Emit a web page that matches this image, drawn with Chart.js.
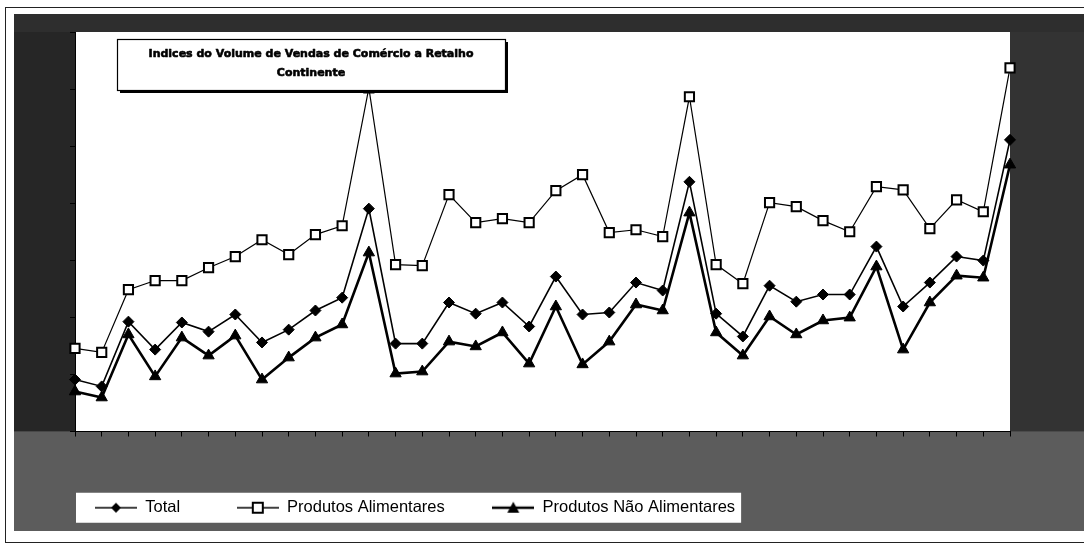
<!DOCTYPE html>
<html>
<head>
<meta charset="utf-8">
<script src="https://cdn.jsdelivr.net/npm/chart.js@4.4.0/dist/chart.umd.min.js"></script>
<style>
  html, body { margin: 0; padding: 0; background: #fff; }
  #wrap { width: 1084px; height: 545px; position: relative; }
</style>
</head>
<body>
<div id="wrap"><canvas id="c"></canvas></div>
<script>
// ---- data (36 months) ----
const months = ['Jan','Fev','Mar','Abr','Mai','Jun','Jul','Ago','Set','Out','Nov','Dez'];
const categories = months.concat(months, months);

const total = [78.2, 75.8, 98.5, 88.7, 98.2, 95.0, 101.0, 91.2, 95.7, 102.4, 106.9, 138.1,
               90.8, 90.8, 105.2, 101.3, 105.2, 96.8, 114.3, 101.0, 101.7, 112.2, 109.4, 147.5,
               101.3, 93.3, 111.1, 105.5, 108.0, 108.0, 124.8, 103.8, 112.2, 121.3, 119.9, 162.2];

const alimentares = [89.1, 87.7, 109.7, 112.9, 112.9, 117.4, 121.3, 127.2, 122.0, 129.0, 132.1, 180.4,
                     118.5, 118.1, 143.0, 133.2, 134.6, 133.2, 144.4, 150.0, 129.7, 130.7, 128.3, 177.3,
                     118.5, 111.8, 140.2, 138.8, 133.9, 130.0, 145.8, 144.7, 131.1, 141.2, 137.0, 187.4];

const naoAlimentares = [74.0, 71.9, 94.0, 79.3, 92.9, 86.6, 93.6, 78.2, 85.9, 92.9, 97.5, 122.7,
                        80.3, 81.0, 91.5, 89.8, 94.7, 83.8, 103.8, 83.5, 91.5, 104.5, 102.4, 136.7,
                        94.7, 86.6, 100.3, 94.0, 98.9, 99.9, 117.8, 88.7, 105.2, 114.6, 113.9, 153.5];

const seriesNames = ['Total', 'Produtos Alimentares', 'Produtos Não Alimentares'];
const titleLines = ['Indices do Volume de Vendas de Comércio a Retalho', 'Continente'];
const yMin = 60, yMax = 200, yStep = 20;

// ---- legend marker images (line + marker) ----
function makeMarker(kind) {
  const c = document.createElement('canvas');
  c.width = 42; c.height = 16;
  const g = c.getContext('2d');
  g.strokeStyle = '#000';
  g.lineWidth = kind === 'tri' ? 2.5 : 1.5;
  g.beginPath(); g.moveTo(0, 8); g.lineTo(42, 8); g.stroke();
  g.fillStyle = '#000';
  if (kind === 'dia') {
    g.beginPath(); g.moveTo(21, 3); g.lineTo(26, 8); g.lineTo(21, 13); g.lineTo(16, 8); g.closePath(); g.fill();
  } else if (kind === 'sq') {
    g.fillStyle = '#fff'; g.fillRect(16, 3, 10, 10);
    g.lineWidth = 2; g.strokeRect(16, 3, 10, 10);
  } else {
    g.beginPath(); g.moveTo(21, 2); g.lineTo(27, 13); g.lineTo(15, 13); g.closePath(); g.fill();
  }
  return c;
}
const markerImgs = [makeMarker('dia'), makeMarker('sq'), makeMarker('tri')];
const legendTrail = ['        ', '      ', ''];

// ---- background / frame plugin ----
const scanBackground = {
  id: 'scanBackground',
  beforeDraw(chart) {
    const ctx = chart.ctx, a = chart.chartArea;
    const W = chart.width;
    ctx.save();
    ctx.fillStyle = '#fff';
    ctx.fillRect(0, 0, W, chart.height);
    // outer thin frame
    ctx.strokeStyle = '#222';
    ctx.lineWidth = 1;
    ctx.strokeRect(5.5, 7.5, W + 10, 535);
    // dark scanned area
    ctx.fillStyle = '#454545';
    ctx.fillRect(14, 14, W - 14, 517);
    ctx.fillStyle = '#262626';
    ctx.fillRect(14, 14, a.left - 14, a.bottom - 14);
    ctx.fillStyle = '#2e2e2e';
    ctx.fillRect(14, 14, W - 14, a.top - 14);
    ctx.fillStyle = '#333';
    ctx.fillRect(a.right, a.top, W - a.right, a.bottom - a.top);
    ctx.fillStyle = '#5c5c5c';
    ctx.fillRect(14, a.bottom, W - 14, 531 - a.bottom);
    // plot area
    ctx.fillStyle = '#fff';
    ctx.fillRect(a.left, a.top, a.right - a.left, a.bottom - a.top);
    // legend box
    const lg = chart.legend;
    if (lg && lg.legendHitBoxes && lg.legendHitBoxes.length) {
      const hb = lg.legendHitBoxes;
      const first = hb[0], last = hb[hb.length - 1];
      const cy = first.top + first.height / 2;
      const x0 = first.left - 19, x1 = last.left + last.width + 6;
      ctx.fillStyle = '#fff';
      ctx.fillRect(x0, cy - 15, x1 - x0, 30);
    }
    ctx.restore();
  }
};

// ---- title box plugin ----
const titleBox = {
  id: 'titleBox',
  afterDatasetsDraw(chart) {
    const ctx = chart.ctx, a = chart.chartArea;
    const x0 = a.left + 42, y0 = a.top + 7, w = 388, h = 51;
    ctx.save();
    ctx.fillStyle = '#000';
    ctx.fillRect(x0 + 3, y0 + 3, w, h);
    ctx.fillStyle = '#fff';
    ctx.fillRect(x0, y0, w, h);
    ctx.strokeStyle = '#000';
    ctx.lineWidth = 1.2;
    ctx.strokeRect(x0 + 0.5, y0 + 0.5, w, h);
    ctx.fillStyle = '#000';
    ctx.font = 'bold 11px "DejaVu Sans", sans-serif';
    ctx.textAlign = 'center';
    ctx.textBaseline = 'middle';
    ctx.lineWidth = 0.6;
    ctx.lineJoin = 'round';
    ctx.strokeText(titleLines[0], x0 + w / 2, y0 + 15);
    ctx.fillText(titleLines[0], x0 + w / 2, y0 + 15);
    ctx.strokeText(titleLines[1], x0 + w / 2, y0 + 34);
    ctx.fillText(titleLines[1], x0 + w / 2, y0 + 34);
    ctx.restore();
  }
};

new Chart(document.getElementById('c'), {
  type: 'line',
  data: {
    labels: categories,
    datasets: [
      {
        label: seriesNames[0], data: total,
        borderColor: '#000', borderWidth: 1.6,
        pointStyle: 'rectRot', pointRadius: 5.5,
        pointBackgroundColor: '#000', pointBorderColor: '#000', pointBorderWidth: 1,
        tension: 0, clip: false
      },
      {
        label: seriesNames[1], data: alimentares,
        borderColor: '#000', borderWidth: 1.2,
        pointStyle: 'rect', pointRadius: 6.5,
        pointBackgroundColor: '#fff', pointBorderColor: '#000', pointBorderWidth: 2,
        tension: 0, clip: false
      },
      {
        label: seriesNames[2], data: naoAlimentares,
        borderColor: '#000', borderWidth: 2.6,
        pointStyle: 'triangle', pointRadius: 6.5,
        pointBackgroundColor: '#000', pointBorderColor: '#000', pointBorderWidth: 1,
        tension: 0, clip: false
      }
    ]
  },
  options: {
    responsive: true,
    maintainAspectRatio: false,
    animation: false,
    layout: { padding: { left: 15, right: 74, top: 32, bottom: 19 } },
    scales: {
      x: {
        type: 'category',
        offset: false,
        ticks: { display: false },
        grid: { drawOnChartArea: false, tickLength: 5, color: '#000', offset: false },
        border: { color: '#000', width: 1 },
        afterFit(s) { s.height = 48; }
      },
      y: {
        min: yMin, max: yMax,
        ticks: { display: false, stepSize: yStep },
        grid: { drawOnChartArea: false, tickLength: 5, color: '#000' },
        border: { color: '#000', width: 1 },
        afterFit(s) { s.width = 60; }
      }
    },
    plugins: {
      tooltip: { enabled: false },
      title: { display: false },
      legend: {
        display: true,
        position: 'bottom',
        align: 'start',
        fullSize: false,
        labels: {
          usePointStyle: true,
          pointStyleWidth: 42,
          padding: 20,
          color: '#000',
          font: { family: '"Liberation Sans", Arial, sans-serif', size: 16.5 },
          generateLabels(chart) {
            return chart.data.datasets.map((ds, i) => ({
              text: ds.label + legendTrail[i],
              pointStyle: markerImgs[i],
              fillStyle: '#000',
              strokeStyle: '#000',
              lineWidth: 0,
              hidden: false,
              datasetIndex: i,
              fontColor: '#000'
            }));
          }
        }
      }
    }
  },
  plugins: [scanBackground, titleBox]
});
</script>
</body>
</html>
